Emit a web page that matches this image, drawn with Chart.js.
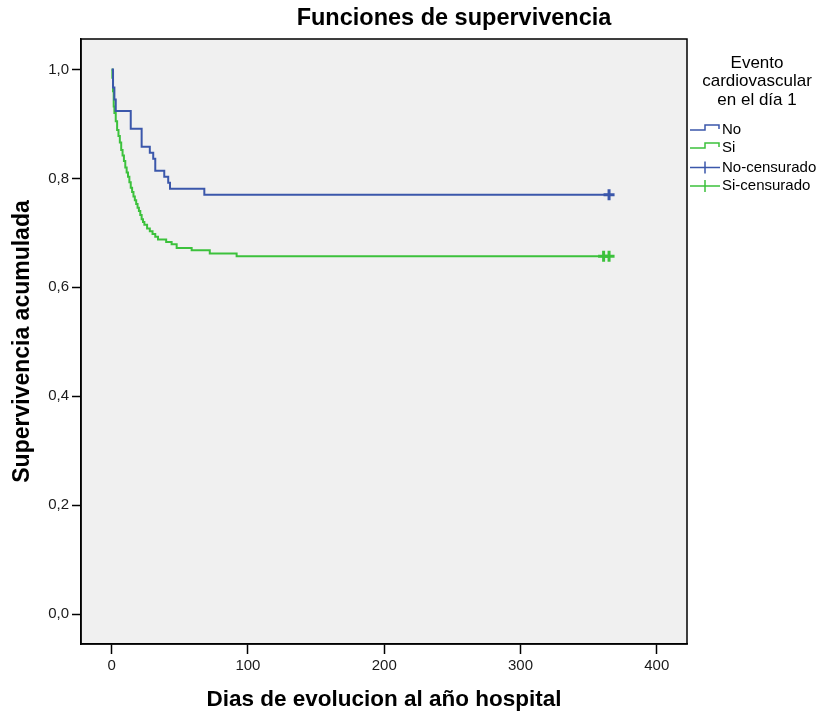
<!DOCTYPE html>
<html>
<head>
<meta charset="utf-8">
<title>Funciones de supervivencia</title>
<script src="https://cdn.jsdelivr.net/npm/chart.js@4/dist/chart.umd.min.js"></script>
<style>
  body { margin: 0; background: #fff; }
  #caja { width: 828px; height: 715px; }
</style>
</head>
<body>
<div id="caja"><canvas id="grafico"></canvas></div>
<script>
// Datos (dias, supervivencia acumulada)
const diasNo = [0, 1, 2, 3, 14, 22, 28, 30.5, 32, 38.6, 41.5, 42.8, 68, 365];
const supervNo = [1.0, 0.967, 0.945, 0.924, 0.891, 0.858, 0.847, 0.836, 0.814, 0.803, 0.792, 0.781, 0.770, 0.770];

const diasSi = [0, 0.5, 1, 1.5, 2, 3, 4, 5, 6, 7, 8, 9, 10, 11, 12, 13, 14, 15, 16, 17, 18, 19, 20, 21, 22, 23, 24, 26, 28, 30, 32, 34, 40, 44, 47.7, 58.7, 72, 91.7, 365];
const supervSi = [1.0, 0.985, 0.96, 0.932, 0.92, 0.905, 0.889, 0.878, 0.866, 0.852, 0.842, 0.832, 0.82, 0.811, 0.803, 0.793, 0.783, 0.775, 0.767, 0.76, 0.753, 0.746, 0.74, 0.733, 0.725, 0.72, 0.715, 0.708, 0.703, 0.698, 0.693, 0.688, 0.683, 0.679, 0.672, 0.668, 0.662, 0.657, 0.657];

// Casos censurados
const censNoDias = [365];
const censNoSuperv = [0.770];
const censSiDias = [361, 365];
const censSiSuperv = [0.657, 0.657];

// Ejes
const ticksX = [0, 100, 200, 300, 400];
const ticksY = [0, 0.2, 0.4, 0.6, 0.8, 1.0];

const azul = '#3b57ab';
const verde = '#3cc13c';
const fuente = "'Liberation Sans', Arial, sans-serif";

const puntos = (xs, ys) => xs.map((x, i) => ({ x: x, y: ys[i] }));

const data = {
  datasets: [
    { label: 'No', data: puntos(diasNo, supervNo), showLine: true, stepped: 'before',
      borderColor: azul, borderWidth: 2, pointRadius: 0 },
    { label: 'Si', data: puntos(diasSi, supervSi), showLine: true, stepped: 'before',
      borderColor: verde, borderWidth: 2, pointRadius: 0 },
    { label: 'No-censurado', data: puntos(censNoDias, censNoSuperv), showLine: false,
      pointStyle: 'cross', pointRadius: 5.5, borderColor: azul, borderWidth: 3 },
    { label: 'Si-censurado', data: puntos(censSiDias, censSiSuperv), showLine: false,
      pointStyle: 'cross', pointRadius: 5.5, borderColor: verde, borderWidth: 3 }
  ]
};

// Fondo gris, marco, titulo y leyenda estilo SPSS
const estiloSpss = {
  id: 'estiloSpss',
  beforeDraw(chart) {
    const { ctx, chartArea: a } = chart;
    ctx.save();
    ctx.fillStyle = '#f0f0f0';
    ctx.fillRect(a.left, a.top, a.right - a.left, a.bottom - a.top);
    ctx.restore();
  },
  afterDraw(chart) {
    const { ctx, chartArea: a } = chart;
    ctx.save();
    ctx.strokeStyle = '#000';
    ctx.lineWidth = 1.5;
    ctx.strokeRect(a.left, a.top, a.right - a.left, a.bottom - a.top);

    // titulo
    ctx.fillStyle = '#000';
    ctx.font = 'bold 23.5px ' + fuente;
    ctx.textAlign = 'center';
    ctx.textBaseline = 'middle';
    ctx.fillText('Funciones de supervivencia', 454, 19);

    // titulo de la leyenda
    ctx.font = '17px ' + fuente;
    ['Evento', 'cardiovascular', 'en el día 1'].forEach((t, i) => {
      ctx.fillText(t, 757, 63 + i * 18.7);
    });

    // elementos de la leyenda
    const items = [
      { texto: 'No', color: azul, tipo: 'escalon', y: 130 },
      { texto: 'Si', color: verde, tipo: 'escalon', y: 148 },
      { texto: 'No-censurado', color: azul, tipo: 'cruz', y: 167.5 },
      { texto: 'Si-censurado', color: verde, tipo: 'cruz', y: 186 }
    ];
    ctx.font = '15px ' + fuente;
    ctx.textAlign = 'left';
    items.forEach(it => {
      ctx.strokeStyle = it.color;
      ctx.lineWidth = 1.5;
      ctx.beginPath();
      if (it.tipo === 'escalon') {
        ctx.moveTo(690, it.y);
        ctx.lineTo(705, it.y);
        ctx.lineTo(705, it.y - 5);
        ctx.lineTo(719, it.y - 5);
        ctx.lineTo(719, it.y - 1);
      } else {
        ctx.moveTo(690, it.y);
        ctx.lineTo(720, it.y);
        ctx.moveTo(705, it.y - 6);
        ctx.lineTo(705, it.y + 6);
      }
      ctx.stroke();
      ctx.fillStyle = '#000';
      ctx.fillText(it.texto, 722, it.y);
    });
    ctx.restore();
  }
};

const config = {
  type: 'scatter',
  data: data,
  options: {
    responsive: true,
    maintainAspectRatio: false,
    animation: false,
    devicePixelRatio: 1,
    layout: { padding: { top: 39, right: 141, left: 0, bottom: 0 } },
    plugins: { legend: { display: false }, tooltip: { enabled: false } },
    scales: {
      x: {
        type: 'linear',
        min: -22.5,
        max: 422.2,
        afterFit: s => { s.height = 71; },
        afterBuildTicks: s => { s.ticks = ticksX.map(v => ({ value: v })); },
        grid: { drawOnChartArea: false, drawTicks: true, tickLength: 10, tickColor: '#000', tickWidth: 1.5 },
        border: { display: true, color: '#000', width: 1.5 },
        ticks: { color: '#1a1a1a', padding: 3, maxRotation: 0, font: { family: fuente, size: 15 } },
        title: {
          display: true,
          text: 'Dias de evolucion al año hospital',
          color: '#000',
          font: { family: fuente, size: 22.5, weight: 'bold', lineHeight: 1.2 },
          padding: { top: 0, bottom: 1.5 }
        }
      },
      y: {
        type: 'linear',
        min: -0.055,
        max: 1.056,
        afterFit: s => { s.width = 81; },
        afterBuildTicks: s => { s.ticks = ticksY.map(v => ({ value: v })); },
        grid: { drawOnChartArea: false, drawTicks: true, tickLength: 9, tickColor: '#000', tickWidth: 1.5 },
        border: { display: true, color: '#000', width: 1.5 },
        ticks: {
          color: '#1a1a1a', padding: 3,
          font: { family: fuente, size: 15 },
          callback: v => v.toFixed(1).replace('.', ',')
        },
        title: {
          display: true,
          text: 'Supervivencia acumulada',
          color: '#000',
          font: { family: fuente, size: 23, weight: 'bold', lineHeight: 1.2 },
          padding: { top: 9, bottom: 0 }
        }
      }
    }
  },
  plugins: [estiloSpss]
};

const grafico = new Chart(document.getElementById('grafico'), config);
</script>
</body>
</html>
